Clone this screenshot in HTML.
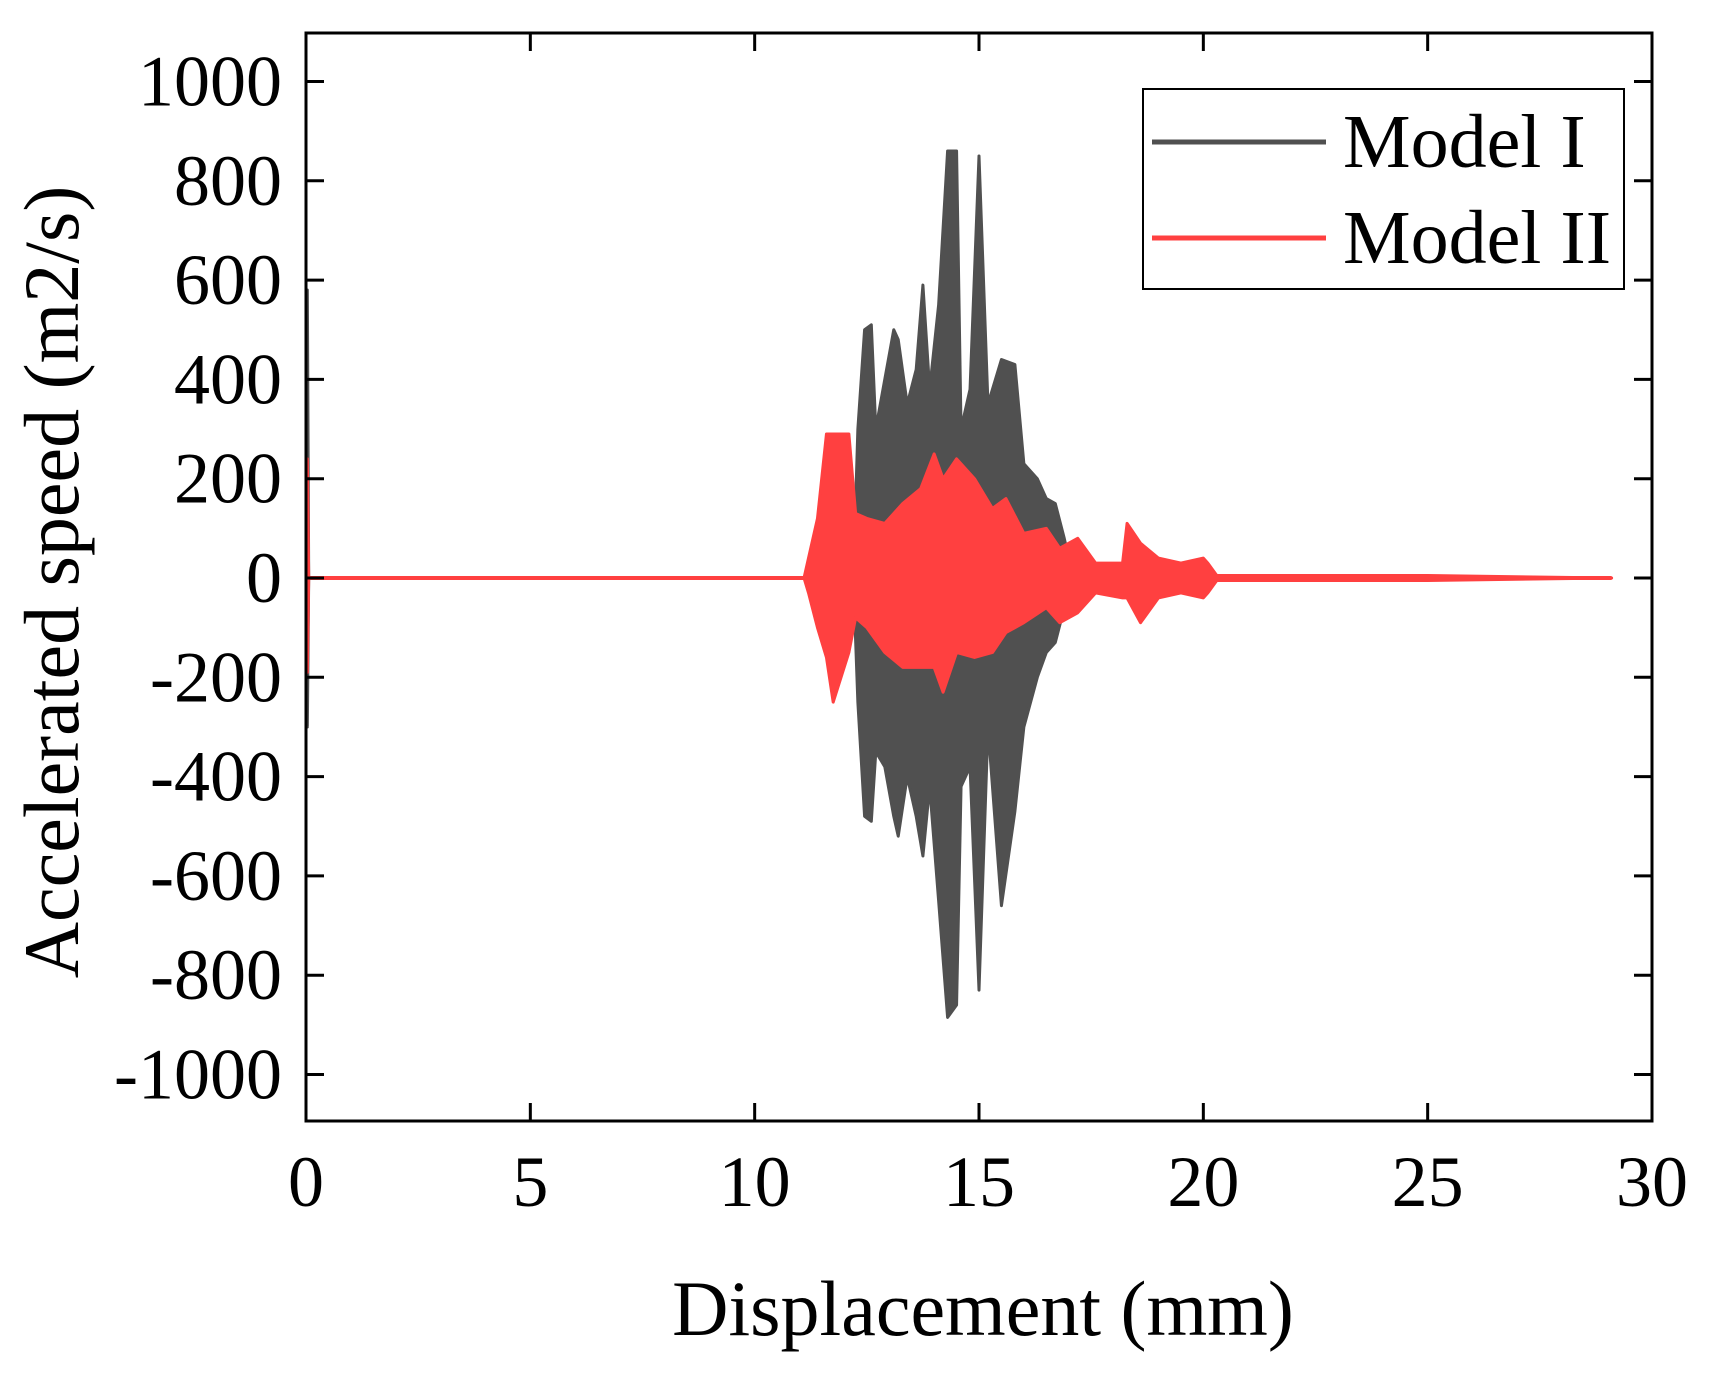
<!DOCTYPE html>
<html><head><meta charset="utf-8"><style>
body{margin:0;background:#fff;}
svg text{font-family:"Liberation Serif",serif;fill:#000;}
</style></head><body>
<svg id="chart" width="1716" height="1368" viewBox="0 0 1716 1368" xmlns="http://www.w3.org/2000/svg"></svg>
<script>
const xTicks=[0,5,10,15,20,25,30];
const yTicks=[1000,800,600,400,200,0,-200,-400,-600,-800,-1000];
const grayX=[0,0.03,0.06,12.2,12.3,12.45,12.6,12.7,12.9,13.1,13.2,13.4,13.6,13.75,13.9,14.1,14.3,14.5,14.6,14.8,15.0,15.2,15.5,15.8,16.0,16.3,16.5,16.7,16.9,17.1];
const grayHi=[0,580,0,0,300,500,510,300,400,500,480,350,420,590,380,550,860,860,300,380,850,350,440,430,230,200,160,150,80,0];
const grayLo=[0,-300,0,0,-250,-480,-490,-350,-380,-480,-520,-400,-480,-560,-420,-650,-885,-860,-420,-380,-830,-300,-660,-470,-300,-200,-150,-130,-60,0];
const redX=[0,0.03,0.06,11.1,11.2,11.4,11.6,11.75,12.1,12.25,12.5,12.9,13.3,13.7,14.0,14.2,14.5,14.9,15.3,15.6,16.0,16.5,16.8,17.2,17.6,18.2,18.3,18.6,19.0,19.5,20.0,20.1,20.3,22.5,25,29.1];
const redHi=[0,240,0,0,40,120,290,290,290,130,120,110,150,180,250,200,240,200,140,160,90,100,60,80,30,30,110,70,40,30,40,30,5,5,5,0];
const redLo=[0,-190,0,0,-30,-100,-160,-250,-150,-80,-100,-150,-180,-180,-180,-230,-150,-160,-150,-110,-90,-60,-90,-70,-30,-40,-40,-90,-40,-30,-40,-30,-5,-5,-5,0];
const L=306,R=1652,T=33,B=1121;
const X=v=>L+(v/30)*(R-L);
const Y=v=>578-(v/1000)*496.5;
const svg=document.getElementById('chart');
const NS='http://www.w3.org/2000/svg';
function mk(tag,attrs,parent){const e=document.createElementNS(NS,tag);for(const k in attrs)e.setAttribute(k,attrs[k]);(parent||svg).appendChild(e);return e;}
function band(xs,hi,lo,color,name){
  let d='M'+X(xs[0])+','+Y(hi[0]);
  for(let i=1;i<xs.length;i++)d+=' L'+X(xs[i])+','+Y(hi[i]);
  for(let i=xs.length-1;i>=0;i--)d+=' L'+X(xs[i])+','+Y(lo[i]);
  d+='Z';
  const p=mk('path',{d:d,fill:color,stroke:color,'stroke-width':3,'stroke-linejoin':'round'});
  
  
}
band(grayX,grayHi,grayLo,'#505050','series-model-i');
band(redX,redHi,redLo,'#ff4040','series-model-ii');
const base=mk('line',{x1:X(0),x2:X(29.1),y1:Y(0),y2:Y(0),stroke:'#ff4040','stroke-width':4});


const fr=mk('rect',{x:L,y:T,width:R-L,height:B-T,fill:'none',stroke:'#000','stroke-width':3});


xTicks.forEach(t=>{
  mk('line',{x1:X(t),x2:X(t),y1:B,y2:B-18,stroke:'#000','stroke-width':3});
  mk('line',{x1:X(t),x2:X(t),y1:T,y2:T+18,stroke:'#000','stroke-width':3});
  const tx=mk('text',{x:X(t),y:1206,'font-size':72,'text-anchor':'middle'});
  tx.textContent=t;
  
  
});
yTicks.forEach(t=>{
  mk('line',{x1:L,x2:L+18,y1:Y(t),y2:Y(t),stroke:'#000','stroke-width':3});
  mk('line',{x1:R,x2:R-18,y1:Y(t),y2:Y(t),stroke:'#000','stroke-width':3});
  const tx=mk('text',{x:282,y:Y(t)+24,'font-size':72,'text-anchor':'end'});
  tx.textContent=t;
  
  
});
const xt=mk('text',{x:983,y:1335,'font-size':78,'text-anchor':'middle'});
xt.textContent='Displacement (mm)';


const yt=mk('text',{x:0,y:0,'font-size':78,'text-anchor':'middle',transform:'translate(78,582) rotate(-90)'});
yt.textContent='Accelerated speed (m2/s)';


const lg=mk('g',{});


mk('rect',{x:1143,y:89,width:481,height:200,fill:'#fff',stroke:'#000','stroke-width':2},lg);
mk('line',{x1:1152,x2:1326,y1:142,y2:142,stroke:'#505050','stroke-width':5},lg);
mk('line',{x1:1152,x2:1326,y1:238,y2:238,stroke:'#ff4040','stroke-width':5},lg);
const l1=mk('text',{x:1343,y:167,'font-size':76},lg);l1.textContent='Model I';


const l2=mk('text',{x:1343,y:263,'font-size':76},lg);l2.textContent='Model II';


</script>
</body></html>
